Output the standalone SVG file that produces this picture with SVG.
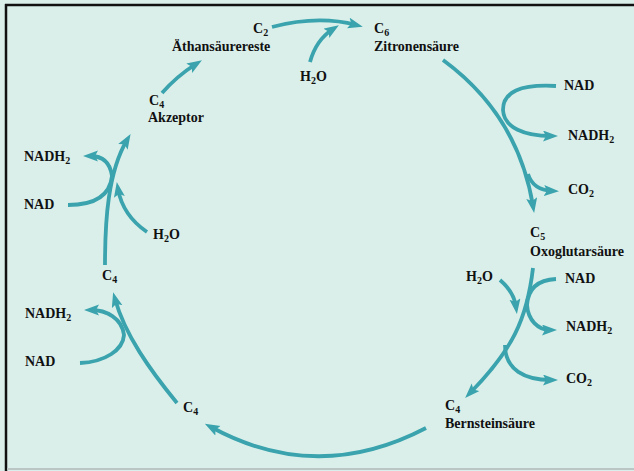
<svg xmlns="http://www.w3.org/2000/svg" width="634" height="471" viewBox="0 0 634 471">
<defs>
<marker id="ah" markerUnits="userSpaceOnUse" markerWidth="16" markerHeight="12" refX="8" refY="5.5" orient="auto">
<path d="M0,0 L15,5.5 L0,11 L3,5.5 z" fill="#3aa3ad"/>
</marker>
<style>
.t{font-family:"Liberation Serif","DejaVu Serif",serif;font-weight:bold;font-size:14px;fill:#111}
.s{font-size:10px}
.c{fill:none;stroke:#3aa3ad;stroke-width:3.8;stroke-linecap:butt}
.a{marker-end:url(#ah)}
</style>
</defs>
<rect x="0" y="0" width="634" height="471" fill="#daefea"/>
<line x1="6" y1="4" x2="6" y2="471" stroke="#111" stroke-width="2.5"/>
<line x1="5" y1="5" x2="634" y2="5" stroke="#111" stroke-width="2.5"/>
<line x1="7" y1="469" x2="634" y2="469" stroke="#b9c6c3" stroke-width="2"/>

<g id="connectors">
<path class="c a" d="M272,27 Q318,15 356,25"/>
<path class="c a" d="M310,62 Q316,40 333,29"/>
<path class="c a" d="M162,93 Q177,76 196,64"/>
<path class="c a" d="M443,60 Q518,115 533,206"/>
<path class="c a" d="M556,86 C520,84 503,92 503,110 C504,128 525,136 551,136"/>
<path class="c a" d="M528,174 Q533,190 552,191"/>
<path class="c a" d="M533,268 C527,320 512,350 470,393"/>
<path class="c a" d="M556,279 C536,280 528,290 527,305 C528,320 538,330 550,330"/>
<path class="c a" d="M500,280 Q514,292 516,307"/>
<path class="c a" d="M505,345 C505,370 525,380 551,380"/>
<path class="c a" d="M426,428 Q317,485 211,427"/>
<path class="c a" d="M177,403 C150,370 125,335 115,299"/>
<path class="c a" d="M80,363 C105,362 123,350 124,335 C122,318 106,310 91,310"/>
<path class="c a" d="M105,265 C105,220 108,172 127,140"/>
<path class="c a" d="M68,205 C95,205 110,195 112,176 C110,161 101,156 90,156"/>
<path class="c a" d="M147,232 C131,221 121,206 118,189"/>
</g>

<g id="c2"><text class="t" x="253" y="33">C<tspan class="s" dy="3">2</tspan></text></g>
<g id="aethansaeurereste"><text class="t" x="172" y="51">Äthansäurereste</text></g>
<g id="c6"><text class="t" x="374" y="33">C<tspan class="s" dy="3">6</tspan></text>
<text class="t" x="374" y="51">Zitronensäure</text></g>
<g id="h2o-top"><text class="t" x="300" y="81">H<tspan class="s" dy="3">2</tspan><tspan dy="-3">O</tspan></text></g>
<g id="akzeptor"><text class="t" x="149" y="105">C<tspan class="s" dy="3">4</tspan></text>
<text class="t" x="148" y="122">Akzeptor</text></g>
<g id="nadh2-ul"><text class="t" x="24" y="161">NADH<tspan class="s" dy="3">2</tspan></text></g>
<g id="nad-ul"><text class="t" x="24" y="209">NAD</text></g>
<g id="h2o-left"><text class="t" x="153" y="239">H<tspan class="s" dy="3">2</tspan><tspan dy="-3">O</tspan></text></g>
<g id="c4-left"><text class="t" x="102" y="280">C<tspan class="s" dy="3">4</tspan></text></g>
<g id="nadh2-ll"><text class="t" x="25" y="318">NADH<tspan class="s" dy="3">2</tspan></text></g>
<g id="nad-ll"><text class="t" x="25" y="366">NAD</text></g>
<g id="c4-bottom"><text class="t" x="183" y="412">C<tspan class="s" dy="3">4</tspan></text></g>
<g id="bernsteinsaeure"><text class="t" x="445" y="410">C<tspan class="s" dy="3">4</tspan></text>
<text class="t" x="445" y="428">Bernsteinsäure</text></g>
<g id="oxoglutarsaeure"><text class="t" x="530" y="237">C<tspan class="s" dy="3">5</tspan></text>
<text class="t" x="530" y="256">Oxoglutarsäure</text></g>
<g id="nad-ur"><text class="t" x="564" y="90">NAD</text></g>
<g id="nadh2-ur"><text class="t" x="568" y="140">NADH<tspan class="s" dy="3">2</tspan></text></g>
<g id="co2-ur"><text class="t" x="568" y="194">CO<tspan class="s" dy="3">2</tspan></text></g>
<g id="h2o-right"><text class="t" x="466" y="281">H<tspan class="s" dy="3">2</tspan><tspan dy="-3">O</tspan></text></g>
<g id="nad-lr"><text class="t" x="565" y="283">NAD</text></g>
<g id="nadh2-lr"><text class="t" x="566" y="331">NADH<tspan class="s" dy="3">2</tspan></text></g>
<g id="co2-lr"><text class="t" x="566" y="383">CO<tspan class="s" dy="3">2</tspan></text></g>
</svg>
